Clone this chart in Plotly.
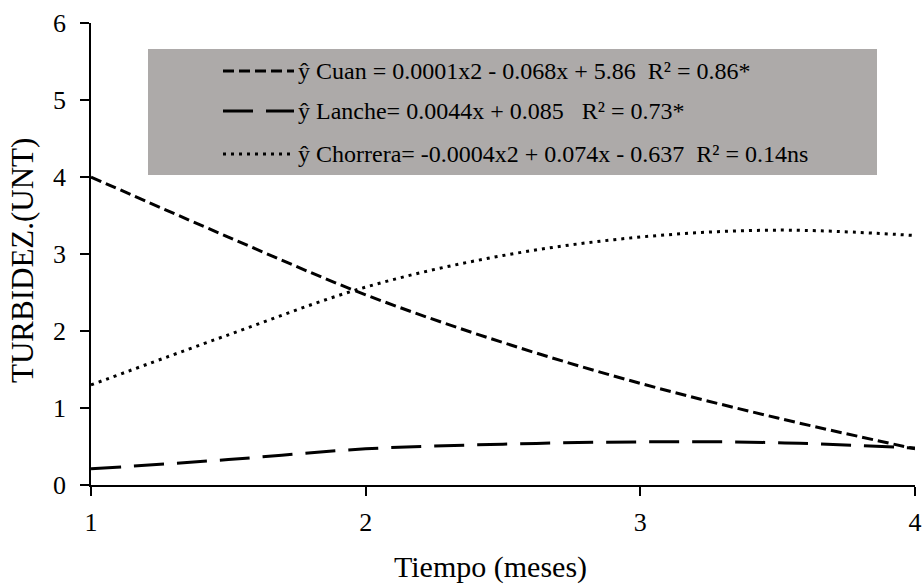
import plotly.graph_objects as go

# Sampling months and fitted turbidity curves per site
meses = [1, 1.5, 2, 2.5, 3, 3.5, 4]
cuan = [4.0, 3.22, 2.47, 1.85, 1.32, 0.87, 0.47]
lanche = [0.21, 0.33, 0.47, 0.53, 0.56, 0.55, 0.48]
chorrera = [1.30, 1.95, 2.57, 2.98, 3.22, 3.31, 3.24]

etiquetas = [
    "ŷ Cuan = 0.0001x2 - 0.068x + 5.86\u00a0\u00a0R² = 0.86*",
    "ŷ Lanche= 0.0044x + 0.085\u00a0\u00a0\u00a0R² = 0.73*",
    "ŷ Chorrera= -0.0004x2 + 0.074x - 0.637\u00a0\u00a0R² = 0.14ns",
]
estilos = ["11px,5px", "30px,13px", "3px,5px"]
series = [cuan, lanche, chorrera]

W, H = 924, 586
L, R, T, B = 91, 9, 23, 101
pw, ph = W - L - R, H - T - B


def px_x(p):
    return (p - L) / pw


def px_y(p):
    return (H - B - p) / ph


SERIF = "Times New Roman, Tinos, DejaVu Serif, serif"

fig = go.Figure()
for ys, dash in zip(series, estilos):
    fig.add_trace(go.Scatter(
        x=meses, y=ys, mode="lines", line_shape="spline",
        line=dict(color="black", width=3, dash=dash),
        showlegend=False, hoverinfo="skip",
    ))

shapes = [dict(
    type="rect", xref="paper", yref="paper", layer="below",
    x0=px_x(148), x1=px_x(877), y0=px_y(175), y1=px_y(49),
    fillcolor="#ADAAA9", line=dict(width=0),
)]
annotations = []
for i, (txt, dash) in enumerate(zip(etiquetas, estilos)):
    yy = px_y([71, 111, 154][i])
    shapes.append(dict(
        type="line", xref="paper", yref="paper",
        x0=px_x(223), x1=px_x(294), y0=yy, y1=yy,
        line=dict(color="black", width=3, dash=dash),
    ))
    annotations.append(dict(
        text=txt, xref="paper", yref="paper", x=px_x(296), y=yy,
        xanchor="left", yanchor="middle", showarrow=False,
        font=dict(family=SERIF, size=24, color="black"),
    ))

annotations.append(dict(
    text="Tiempo (meses)", xref="paper", yref="paper",
    x=px_x(490), y=px_y(567), xanchor="center", yanchor="middle",
    showarrow=False, font=dict(family=SERIF, size=30, color="black"),
))
annotations.append(dict(
    text="TURBIDEZ.(UNT)", xref="paper", yref="paper",
    x=px_x(22), y=px_y(261), xanchor="center", yanchor="middle",
    textangle=-90, showarrow=False,
    font=dict(family=SERIF, size=31, color="black"),
))

fig.update_layout(
    width=W, height=H,
    margin=dict(l=L, r=R, t=T, b=B),
    paper_bgcolor="white", plot_bgcolor="white",
    font=dict(family=SERIF, color="black"),
    shapes=shapes, annotations=annotations,
    xaxis=dict(
        range=[1, 4], tickvals=[1, 2, 3, 4], showgrid=False, zeroline=False,
        automargin=False,
        showline=True, linecolor="black", linewidth=1.5,
        ticks="outside", ticklen=9, tickwidth=1.5, tickcolor="black",
        ticklabelstandoff=4,
        tickfont=dict(family=SERIF, size=26, color="black"),
    ),
    yaxis=dict(
        range=[0, 6], dtick=1, showgrid=False, zeroline=False,
        automargin=False,
        showline=True, linecolor="black", linewidth=1.5,
        ticks="outside", ticklen=9, tickwidth=1.5, tickcolor="black",
        ticklabelstandoff=9,
        tickfont=dict(family=SERIF, size=26, color="black"),
    ),
)

fig.write_html("out.html")
